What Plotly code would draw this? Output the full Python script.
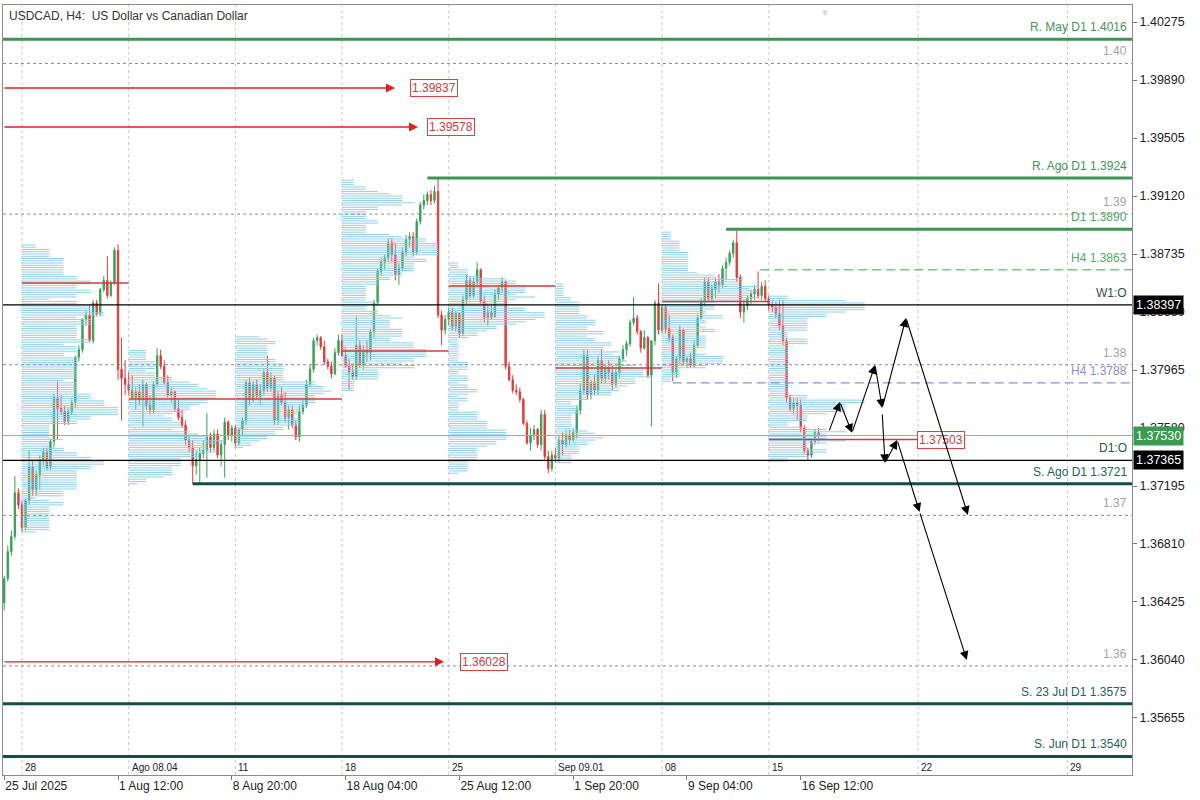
import numpy as np
import plotly.graph_objects as go

# ------------------------------------------------------------------ data
# H4 bar slots: 0 = Mon 28 Jul 2025 00:00 (6 slots per trading day)
bar_slot = list(range(-5, 225))
first_open = 1.3642
closes = [
    1.3658, 1.3676, 1.3686, 1.3715, 1.3707,
    1.3692, 1.3710, 1.3732, 1.3717, 1.3727, 1.3737, 1.3742, 1.3732, 1.3749, 1.3778,
    1.3771, 1.3769, 1.3762, 1.3769, 1.3775, 1.3805, 1.3810, 1.3830, 1.3833, 1.3816,
    1.3841, 1.3834, 1.3850, 1.3856, 1.3846, 1.3854, 1.3876, 1.3797, 1.3791, 1.3787,
    1.3783, 1.3778, 1.3782, 1.3777, 1.3787, 1.3773, 1.3770, 1.3787, 1.3806, 1.3799,
    1.3788, 1.3780, 1.3782, 1.3771, 1.3765, 1.3760, 1.3750, 1.3745, 1.3733, 1.3737,
    1.3741, 1.3743, 1.3752, 1.3745, 1.3754, 1.3740, 1.3747, 1.3762, 1.3753, 1.3758,
    1.3748, 1.3757, 1.3763, 1.3788, 1.3777, 1.3787, 1.3779, 1.3783, 1.3795, 1.3785,
    1.3791, 1.3763, 1.3780, 1.3775, 1.3765, 1.3770, 1.3760, 1.3752, 1.3769, 1.3773,
    1.3787, 1.3797, 1.3816, 1.3818, 1.3812, 1.3802, 1.3799, 1.3794, 1.3808, 1.3816,
    1.3806, 1.3799, 1.3795, 1.3792, 1.3813, 1.3800, 1.3810, 1.3808, 1.3822, 1.3841,
    1.3862, 1.3868, 1.3871, 1.3881, 1.3873, 1.3860, 1.3864, 1.3875, 1.3883, 1.3885,
    1.3875, 1.3895, 1.3906, 1.3909, 1.3913, 1.3909, 1.3915, 1.3833, 1.3823, 1.3830,
    1.3835, 1.3825, 1.3834, 1.3821, 1.3843, 1.3856, 1.3846, 1.3855, 1.3863, 1.3842,
    1.3831, 1.3835, 1.3832, 1.3847, 1.3851, 1.3855, 1.3799, 1.3790, 1.3783, 1.3782,
    1.3777, 1.3761, 1.3748, 1.3753, 1.3757, 1.3747, 1.3767, 1.3739, 1.3731, 1.3740,
    1.3738, 1.3750, 1.3747, 1.3753, 1.3750, 1.3755, 1.3770, 1.3783, 1.3806, 1.3780,
    1.3788, 1.3783, 1.3803, 1.3791, 1.3798, 1.3795, 1.3787, 1.3795, 1.3804, 1.3810,
    1.3814, 1.3828, 1.3831, 1.3822, 1.3811, 1.3818, 1.3793, 1.3816, 1.3841, 1.3823,
    1.3838, 1.3824, 1.3818, 1.3795, 1.3804, 1.3823, 1.3802, 1.3804, 1.3800, 1.3813,
    1.3831, 1.3842, 1.3855, 1.3844, 1.3850, 1.3855, 1.3853, 1.3864, 1.3868, 1.3874,
    1.3881, 1.3858, 1.3835, 1.3839, 1.3844, 1.3847, 1.3850, 1.3846, 1.3852, 1.3844,
    1.3840, 1.3838, 1.3834, 1.3826, 1.3816, 1.3778, 1.3771, 1.3775, 1.3773, 1.3758,
    1.3743, 1.3740, 1.3749, 1.3755, 1.3753,
]
highs = [
    1.3660, 1.3680, 1.3690, 1.3726, 1.3718,
    1.3710, 1.3711, 1.3743, 1.3737, 1.3730, 1.3740, 1.3745, 1.3745, 1.3751, 1.3781,
    1.3789, 1.3780, 1.3773, 1.3771, 1.3777, 1.3806, 1.3813, 1.3831, 1.3836, 1.3840,
    1.3843, 1.3843, 1.3851, 1.3859, 1.3872, 1.3856, 1.3878, 1.3880, 1.3818, 1.3803,
    1.3795, 1.3793, 1.3785, 1.3787, 1.3790, 1.3788, 1.3780, 1.3789, 1.3811, 1.3810,
    1.3803, 1.3793, 1.3785, 1.3783, 1.3777, 1.3770, 1.3763, 1.3753, 1.3750, 1.3743,
    1.3745, 1.3750, 1.3768, 1.3755, 1.3757, 1.3757, 1.3750, 1.3765, 1.3763, 1.3760,
    1.3760, 1.3758, 1.3765, 1.3790, 1.3791, 1.3789, 1.3790, 1.3787, 1.3797, 1.3806,
    1.3795, 1.3793, 1.3783, 1.3785, 1.3782, 1.3773, 1.3773, 1.3763, 1.3773, 1.3777,
    1.3790, 1.3800, 1.3818, 1.3820, 1.3819, 1.3816, 1.3804, 1.3802, 1.3811, 1.3820,
    1.3820, 1.3811, 1.3804, 1.3800, 1.3832, 1.3816, 1.3813, 1.3816, 1.3824, 1.3843,
    1.3864, 1.3871, 1.3873, 1.3884, 1.3884, 1.3881, 1.3868, 1.3878, 1.3886, 1.3888,
    1.3888, 1.3897, 1.3908, 1.3913, 1.3915, 1.3916, 1.3919, 1.3924, 1.3836, 1.3833,
    1.3838, 1.3838, 1.3836, 1.3835, 1.3846, 1.3860, 1.3858, 1.3858, 1.3868, 1.3864,
    1.3846, 1.3840, 1.3840, 1.3850, 1.3853, 1.3858, 1.3856, 1.3802, 1.3793, 1.3787,
    1.3785, 1.3778, 1.3763, 1.3758, 1.3760, 1.3758, 1.3770, 1.3770, 1.3743, 1.3743,
    1.3745, 1.3753, 1.3755, 1.3757, 1.3757, 1.3758, 1.3773, 1.3787, 1.3810, 1.3810,
    1.3790, 1.3793, 1.3806, 1.3810, 1.3800, 1.3803, 1.3800, 1.3797, 1.3806, 1.3813,
    1.3816, 1.3830, 1.3845, 1.3833, 1.3823, 1.3823, 1.3819, 1.3816, 1.3843, 1.3854,
    1.3840, 1.3840, 1.3833, 1.3820, 1.3806, 1.3826, 1.3824, 1.3806, 1.3808, 1.3816,
    1.3833, 1.3844, 1.3858, 1.3858, 1.3853, 1.3858, 1.3860, 1.3866, 1.3871, 1.3876,
    1.3883, 1.3889, 1.3860, 1.3843, 1.3846, 1.3850, 1.3853, 1.3862, 1.3855, 1.3856,
    1.3846, 1.3843, 1.3842, 1.3843, 1.3843, 1.3818, 1.3780, 1.3778, 1.3778, 1.3777,
    1.3760, 1.3745, 1.3751, 1.3757, 1.3758,
]
lows = [
    1.3637, 1.3656, 1.3673, 1.3684, 1.3704,
    1.3689, 1.3690, 1.3707, 1.3713, 1.3713, 1.3717, 1.3733, 1.3730, 1.3730, 1.3745,
    1.3750, 1.3767, 1.3760, 1.3760, 1.3767, 1.3771, 1.3802, 1.3808, 1.3826, 1.3815,
    1.3814, 1.3832, 1.3832, 1.3848, 1.3844, 1.3845, 1.3853, 1.3790, 1.3763, 1.3780,
    1.3780, 1.3777, 1.3770, 1.3773, 1.3759, 1.3770, 1.3767, 1.3768, 1.3785, 1.3797,
    1.3787, 1.3778, 1.3775, 1.3769, 1.3763, 1.3758, 1.3747, 1.3742, 1.3721, 1.3727,
    1.3722, 1.3738, 1.3725, 1.3742, 1.3743, 1.3738, 1.3733, 1.3725, 1.3750, 1.3749,
    1.3745, 1.3746, 1.3753, 1.3760, 1.3773, 1.3775, 1.3777, 1.3773, 1.3780, 1.3782,
    1.3782, 1.3760, 1.3760, 1.3773, 1.3762, 1.3757, 1.3758, 1.3750, 1.3749, 1.3767,
    1.3771, 1.3785, 1.3795, 1.3813, 1.3810, 1.3800, 1.3797, 1.3791, 1.3793, 1.3806,
    1.3805, 1.3798, 1.3783, 1.3790, 1.3790, 1.3798, 1.3797, 1.3802, 1.3803, 1.3818,
    1.3839, 1.3859, 1.3863, 1.3868, 1.3868, 1.3856, 1.3853, 1.3862, 1.3872, 1.3878,
    1.3872, 1.3873, 1.3893, 1.3903, 1.3906, 1.3906, 1.3907, 1.3831, 1.3813, 1.3820,
    1.3826, 1.3823, 1.3822, 1.3818, 1.3819, 1.3840, 1.3844, 1.3844, 1.3851, 1.3840,
    1.3828, 1.3826, 1.3830, 1.3831, 1.3843, 1.3848, 1.3797, 1.3789, 1.3781, 1.3780,
    1.3775, 1.3760, 1.3747, 1.3743, 1.3750, 1.3745, 1.3743, 1.3737, 1.3728, 1.3729,
    1.3735, 1.3735, 1.3740, 1.3745, 1.3747, 1.3749, 1.3751, 1.3767, 1.3780, 1.3777,
    1.3777, 1.3780, 1.3780, 1.3787, 1.3787, 1.3790, 1.3783, 1.3785, 1.3791, 1.3802,
    1.3806, 1.3812, 1.3826, 1.3820, 1.3808, 1.3810, 1.3791, 1.3759, 1.3813, 1.3820,
    1.3821, 1.3821, 1.3815, 1.3789, 1.3791, 1.3800, 1.3800, 1.3798, 1.3798, 1.3798,
    1.3811, 1.3830, 1.3839, 1.3842, 1.3842, 1.3844, 1.3848, 1.3851, 1.3856, 1.3866,
    1.3871, 1.3855, 1.3831, 1.3828, 1.3836, 1.3840, 1.3843, 1.3844, 1.3843, 1.3842,
    1.3836, 1.3835, 1.3831, 1.3823, 1.3813, 1.3775, 1.3769, 1.3767, 1.3763, 1.3755,
    1.3741, 1.3736, 1.3738, 1.3747, 1.3749,
]
opens = [first_open] + closes[:-1]

# weekly volume-profile sessions (bar slots) and their POC prices
week_start = [0, 30, 60, 90, 120, 150, 180, 210]
week_end = [30, 60, 90, 120, 150, 180, 210, 225]
poc_price = [1.38542, 1.37772, 1.37772, 1.38091, 1.38523, 1.37978, 1.38420, 1.37503]
poc_end = [30, 60, 90, 120, 150, 180, 210, 251.7]

# horizontal levels
res_label = ["R. May D1 1.4016", "R. Ago D1 1.3924", "D1 1.3890"]
res_price = [1.4016, 1.3924, 1.3890]
res_from = [None, 114, 198]
sup_label = ["S. Ago D1 1.3721", "S. 23 Jul D1 1.3575", "S. Jun D1 1.3540"]
sup_price = [1.3721, 1.3575, 1.3540]
sup_from = [48, None, None]
h4_label = ["H4 1.3863", "H4 1.3788"]
h4_price = [1.3863, 1.3788]
h4_from = [207.6, 183]
open_label = ["W1:O", "D1:O"]
open_price = [1.38397, 1.37365]
round_price = [1.40, 1.39, 1.38, 1.37, 1.36]
round_label = ["1.40", "1.39", "1.38", "1.37", "1.36"]
bid_price = 1.37530

alert_price = [1.39837, 1.39578, 1.36028]
alert_tip = [104.9, 111.4, 118.7]
alert_box = [109.1, 113.9, 123.2]

# forecast arrows (slot, price)
path_a_slot = [226.9, 230.0, 233.4, 239.9, 241.9, 248.6, 266.0]
path_a_price = [1.37554, 1.37753, 1.37548, 1.37998, 1.37713, 1.38310, 1.37003]
path_b_slot = [241.9, 242.7, 246.1, 252.4, 265.7]
path_b_price = [1.37680, 1.37347, 1.37500, 1.37023, 1.36040]

# axes
y_ticks = [1.40275, 1.39890, 1.39505, 1.39120, 1.38735, 1.38350, 1.37965,
           1.37580, 1.37195, 1.36810, 1.36425, 1.36040, 1.35655]
date_tick_slot = [-5, 27, 59, 91, 123, 155, 187, 219]
date_tick_text = ["25 Jul 2025", "1 Aug 12:00", "8 Aug 20:00", "18 Aug 04:00",
                  "25 Aug 12:00", "1 Sep 20:00", "9 Sep 04:00", "16 Sep 12:00"]
week_slot = [0, 30, 60, 90, 120, 150, 180, 210, 252, 294]
week_text = ["28", "Ago 08.04", "11", "18", "25", "Sep 09.01", "08", "15", "22", "29"]
X_RANGE = [-5.34, 312.15]
Y_RANGE = [1.352765, 1.40388]

# ------------------------------------------------------------------ styles
FONT = "Liberation Sans, Arial, sans-serif"
GREEN_C = "#3c9f5a"
RED_C = "#e23b3b"
PROF_C = "#93cfe8"
RES_C = "#3d9554"
SUP_C = "#124f48"
GRID_C = "#c9c9c9"

fig = go.Figure()

# volume profiles (time-at-price from the candles)
BIN = 0.00015
PROFILE_WIDTH = 27
px_, py_ = [], []
for s, e in zip(week_start, week_end):
    idx = [k for k, t in enumerate(bar_slot) if s <= t < e]
    lo = min(lows[k] for k in idx)
    hi = max(highs[k] for k in idx)
    levels = np.arange(lo, hi + 1e-9, BIN)
    counts = np.array([sum(1 for k in idx if lows[k] <= lv <= highs[k]) for lv in levels], float)
    lengths = counts / counts.max() * PROFILE_WIDTH
    for lv, ln in zip(levels, lengths):
        px_ += [s, s + ln, None]
        py_ += [lv, lv, None]
fig.add_trace(go.Scatter(x=px_, y=py_, mode="lines", line=dict(color=PROF_C, width=1),
                         hoverinfo="skip", showlegend=False))

fig.add_trace(go.Candlestick(
    x=bar_slot, open=opens, high=highs, low=lows, close=closes,
    increasing=dict(line=dict(color=GREEN_C, width=1), fillcolor=GREEN_C),
    decreasing=dict(line=dict(color=RED_C, width=1), fillcolor=RED_C),
    whiskerwidth=0, showlegend=False))

shapes = []
# vertical week separators
for s in week_slot:
    shapes.append(dict(type="line", xref="x", yref="paper", x0=s, x1=s, y0=0, y1=1,
                       line=dict(color=GRID_C, width=1, dash="3px,3px"), layer="below"))


def hline(price, start=None, end=None, color="black", width=1, dash="solid"):
    if start is None and end is None:
        shapes.append(dict(type="line", xref="paper", yref="y", x0=0, x1=1, y0=price, y1=price,
                           line=dict(color=color, width=width, dash=dash)))
    else:
        shapes.append(dict(type="line", xref="x", yref="y",
                           x0=X_RANGE[0] if start is None else start,
                           x1=X_RANGE[1] if end is None else end,
                           y0=price, y1=price, line=dict(color=color, width=width, dash=dash)))


annotations = []


def rlabel(text, price, color, shift=3):
    annotations.append(dict(xref="paper", yref="y", x=1, y=price, xanchor="right", yanchor="bottom",
                            xshift=-3, yshift=shift, text=text, showarrow=False,
                            font=dict(family=FONT, size=12, color=color)))


for p, t in zip(round_price, round_label):
    hline(p, color="#8a8a8a", width=1, dash="3px,3px")
    rlabel(t, p, "#a3a3a3")
for p, t, f in zip(res_price, res_label, res_from):
    hline(p, start=f, end=None if f is None else X_RANGE[1], color=RES_C, width=3)
    rlabel(t, p, "#3f9456" if t.startswith("R.") else "#4fa864")
for p, t, f in zip(sup_price, sup_label, sup_from):
    hline(p, start=f, end=None if f is None else X_RANGE[1], color=SUP_C, width=3)
    rlabel(t, p, "#23625b")
hline(h4_price[0], start=h4_from[0], end=X_RANGE[1], color="#79c487", width=1.5, dash="9px,5px")
rlabel(h4_label[0], h4_price[0], "#55a866")
hline(h4_price[1], start=h4_from[1], end=X_RANGE[1], color="#8e8ed6", width=1.2, dash="9px,5px")
rlabel(h4_label[1], h4_price[1], "#8c8cd2")
for p, t in zip(open_price, open_label):
    hline(p, color="black", width=1.2)
    rlabel(t, p, "#2f4f4f")
hline(bid_price, color="#80c08c", width=1)

# POC lines
for s, e, p in zip(week_start, poc_end, poc_price):
    hline(p, start=s, end=e, color="#c9413d", width=1.5)
annotations.append(dict(xref="x", yref="y", x=poc_end[-1], y=poc_price[-1], xanchor="left",
                        yanchor="middle", text=f"{poc_price[-1]:.5f}", showarrow=False,
                        bgcolor="white", bordercolor="#e04040", borderwidth=1, borderpad=1,
                        font=dict(family=FONT, size=12, color="#d03a3a")))

# red alert arrows + boxes
for p, tip, box in zip(alert_price, alert_tip, alert_box):
    annotations.append(dict(xref="x", yref="y", axref="x", ayref="y", x=tip, y=p,
                            ax=X_RANGE[0], ay=p, text="", showarrow=True, arrowhead=2,
                            arrowsize=1.4, arrowwidth=1.3, arrowcolor="#e02020"))
    annotations.append(dict(xref="x", yref="y", x=box, y=p, xanchor="left", yanchor="middle",
                            text=f"{p:.5f}", showarrow=False, bgcolor="white",
                            bordercolor="#e04040", borderwidth=1, borderpad=1,
                            font=dict(family=FONT, size=12, color="#d03a3a")))

# forecast arrows
for xs, ys in ((path_a_slot, path_a_price), (path_b_slot, path_b_price)):
    for k in range(len(xs) - 1):
        annotations.append(dict(xref="x", yref="y", axref="x", ayref="y",
                                x=xs[k + 1], y=ys[k + 1], ax=xs[k], ay=ys[k], text="",
                                showarrow=True, arrowhead=2, arrowsize=1.6, arrowwidth=1.1,
                                arrowcolor="black"))

# axis price tags
for p, bg in zip([open_price[0], bid_price, open_price[1]], ["black", "#3b9b50", "black"]):
    annotations.append(dict(xref="paper", yref="y", x=1, y=p, xanchor="left", yanchor="middle",
                            xshift=1, text=f"{p:.5f}", showarrow=False, bgcolor=bg, borderpad=2,
                            font=dict(family=FONT, size=12.5, color="white")))

# week labels inside the plot bottom
for s, t in zip(week_slot, week_text):
    annotations.append(dict(xref="x", yref="paper", x=s, y=0, xanchor="left", yanchor="bottom",
                            xshift=1, yshift=0, text=t, showarrow=False,
                            font=dict(family=FONT, size=10, color="#222")))

# title
annotations.append(dict(xref="paper", yref="paper", x=0, y=1, xanchor="left", yanchor="top",
                        xshift=4, yshift=-2, text="USDCAD, H4:  US Dollar vs Canadian Dollar",
                        showarrow=False, font=dict(family=FONT, size=12, color="#333")))
# chart shift marker
annotations.append(dict(xref="x", yref="paper", x=225.8, y=1, xanchor="center", yanchor="top",
                        text="▼", showarrow=False, font=dict(size=10, color="#dcdcdc")))

fig.update_layout(
    width=1200, height=800,
    margin=dict(l=3, r=68, t=5, b=25),
    paper_bgcolor="white", plot_bgcolor="white",
    shapes=shapes, annotations=annotations,
    showlegend=False,
    font=dict(family=FONT, size=12, color="#222"),
    boxgap=0.45,
    xaxis=dict(range=X_RANGE, showgrid=False, zeroline=False, rangeslider=dict(visible=False),
               tickvals=date_tick_slot, ticktext=date_tick_text, ticks="outside", ticklen=4,
               tickcolor="#777", ticklabelposition="outside right",
               tickfont=dict(family=FONT, size=12, color="#222"),
               showline=True, linecolor="#8c8c8c", linewidth=1, mirror=True),
    yaxis=dict(range=Y_RANGE, side="right", showgrid=False, zeroline=False,
               tickvals=y_ticks, ticktext=[f"{v:.5f}" for v in y_ticks],
               ticks="outside", ticklen=4, tickcolor="#777",
               tickfont=dict(family=FONT, size=12.5, color="#222"),
               showline=True, linecolor="#8c8c8c", linewidth=1, mirror=True),
)

fig.write_html("out.html", config={"displayModeBar": False},
               post_script="document.body.style.margin='0';document.body.style.overflow='hidden';")
